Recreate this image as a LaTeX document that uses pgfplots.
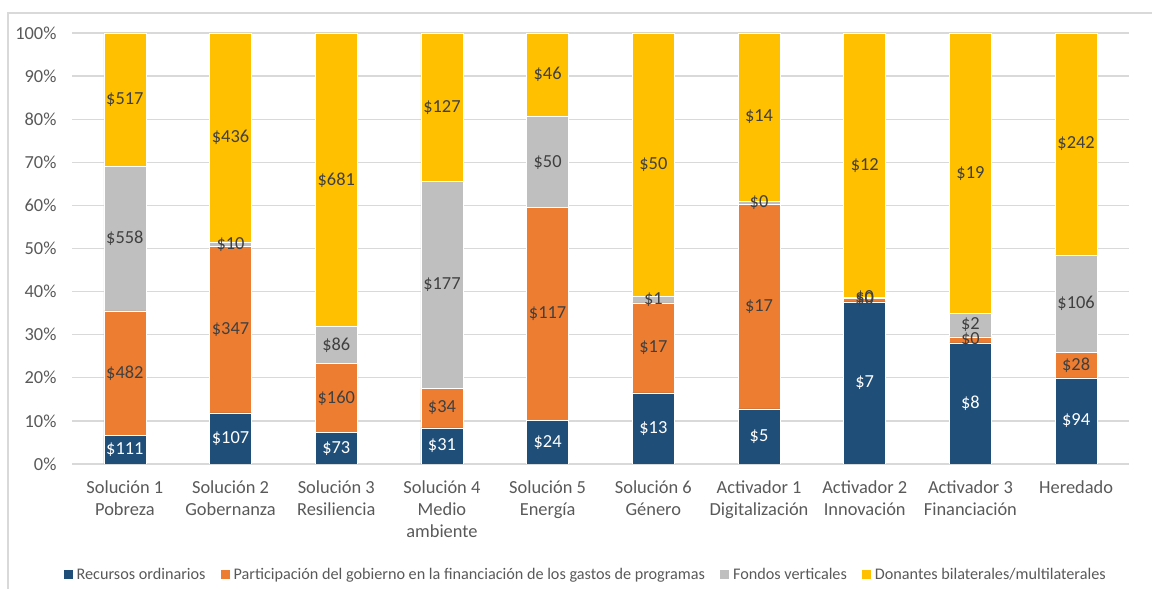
\documentclass[border=0pt]{standalone}
\usepackage{fontspec}
\setmainfont{Carlito}
\usepackage{pgfplots}
\usepackage{pgfplotstable}
\pgfplotsset{compat=1.18}
\definecolor{cblue}{HTML}{1F4E79}
\definecolor{corange}{HTML}{ED7D31}
\definecolor{cgray}{HTML}{BFBFBF}
\definecolor{cyellow}{HTML}{FFC000}
\definecolor{ctext}{HTML}{595959}
\definecolor{clabel}{HTML}{404040}
\definecolor{cgrid}{HTML}{D9D9D9}

% x  pct  center  label
\pgfplotstableread{
x p c v
0 6.65 3.33 111
1 11.89 5.94 107
2 7.3 3.65 73
3 8.40 4.20 31
4 10.13 5.06 24
5 16.5 8.25 13
6 12.8 6.4 5
7 37.6 18.8 7
8 28.1 14.05 8
9 20.0 10.0 94
}\recursos
\pgfplotstableread{
x p c v
0 28.90 21.10 482
1 38.56 31.17 347
2 16.0 15.3 160
3 9.21 13.0 34
4 49.37 34.81 117
5 20.9 26.95 17
6 47.5 36.55 17
7 0.9 38.05 0
8 1.4 28.8 0
9 5.96 22.98 28
}\gobierno
\pgfplotstableread{
x p c v
0 33.45 52.28 558
1 1.11 51.0 10
2 8.6 27.6 86
3 47.97 41.6 177
4 21.10 70.05 50
5 1.5 38.15 1
6 0.7 60.65 0
7 0.1 38.55 0
8 5.5 32.25 2
9 22.55 37.23 106
}\fondos
\pgfplotstableread{
x p c v
0 31.00 84.50 517
1 48.44 75.78 436
2 68.1 65.95 681
3 34.42 82.79 127
4 19.40 90.3 46
5 61.1 69.45 50
6 39.0 80.5 14
7 61.4 69.3 12
8 65.0 67.5 19
9 51.49 74.26 242
}\donantes

\pgfplotsset{
  base/.style={
    scale only axis, width=1057pt, height=431pt,
    xmin=-0.5, xmax=9.5, ymin=0, ymax=100,
    axis line style={draw=none}, major tick length=0pt,
  }
}

\begin{document}
\begin{tikzpicture}
\path[use as bounding box] (-72pt,-125pt) rectangle (1080pt,464pt);
\draw[cgrid, line width=1.3pt] (-64pt,-126pt) -- (-64pt,451pt) -- (1081pt,451pt);
\begin{axis}[base,
  ybar stacked, bar width=42pt,
  ymajorgrids, grid style={cgrid, line width=1.3pt},
  ytick={0,10,...,100},
  yticklabels={0\%,10\%,20\%,30\%,40\%,50\%,60\%,70\%,80\%,90\%,100\%},
  yticklabel style={font=\fontsize{18.4}{22}\selectfont, text=ctext, xshift=-12pt},
  xtick={0,...,9},
  xticklabels={{Solución 1\\Pobreza},{Solución 2\\Gobernanza},{Solución 3\\Resiliencia},{Solución 4\\Medio\\ambiente},{Solución 5\\Energía},{Solución 6\\Género},{Activador 1\\Digitalización},{Activador 2\\Innovación},{Activador 3\\Financiación},{Heredado}},
  xticklabel style={font=\fontsize{18.4}{22}\selectfont, text=ctext, align=center, yshift=-13pt},
  legend columns=4,
  legend style={draw=none, fill=none, at={(0.486,-0.2575)}, anchor=center,
    font=\fontsize{16.2}{18}\selectfont, text=ctext,
    /tikz/every even column/.append style={column sep=13pt},
    /tikz/every odd column/.append style={column sep=2pt}},
  legend image code/.code={\fill[#1,draw=none] (0pt,-4.5pt) rectangle (9pt,4.5pt);},
]
\addplot[fill=cblue, draw=white, line width=0.5pt] table[x=x,y=p]{\recursos};
\addlegendentry{Recursos ordinarios}
\addplot[fill=corange, draw=white, line width=0.5pt] table[x=x,y=p]{\gobierno};
\addlegendentry{Participación del gobierno en la financiación de los gastos de programas}
\addplot[fill=cgray, draw=white, line width=0.5pt] table[x=x,y=p]{\fondos};
\addlegendentry{Fondos verticales}
\addplot[fill=cyellow, draw=white, line width=0.5pt] table[x=x,y=p]{\donantes};
\addlegendentry{Donantes bilaterales/multilaterales}
\end{axis}
\begin{axis}[base, xtick=\empty, ytick=\empty,
  nodes near coords={\$\pgfplotspointmeta},
  point meta=explicit symbolic,
  every node near coord/.append style={anchor=center, font=\fontsize{18.4}{22}\selectfont, inner sep=0pt},
]
\addplot[draw=none, mark=none, nodes near coords style={text=white}] table[x=x,y=c,meta=v]{\recursos};
\addplot[draw=none, mark=none, nodes near coords style={text=clabel}] table[x=x,y=c,meta=v]{\gobierno};
\addplot[draw=none, mark=none, nodes near coords style={text=clabel}] table[x=x,y=c,meta=v]{\fondos};
\addplot[draw=none, mark=none, nodes near coords style={text=clabel}] table[x=x,y=c,meta=v]{\donantes};
\end{axis}
\end{tikzpicture}
\end{document}
